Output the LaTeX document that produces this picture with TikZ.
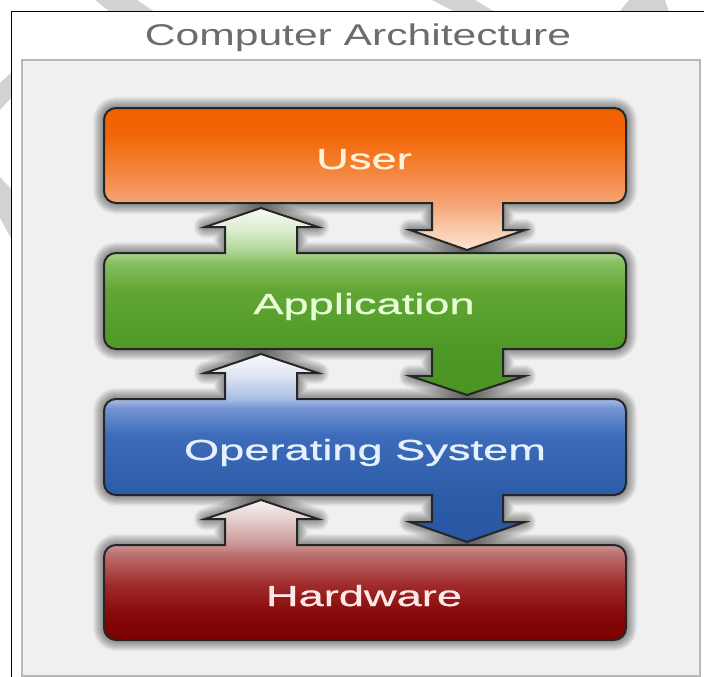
\documentclass[tikz,border=0pt]{standalone}
\usepackage{fontspec}
\newfontfamily\titlefont[FakeStretch=1.42]{Liberation Sans}
\newfontfamily\layerfont[FakeStretch=1.56,FakeBold=0.8]{Liberation Sans}

% panel and frame
\definecolor{panelfill}{HTML}{F0F0F0}
\definecolor{panelline}{HTML}{B8B8B8}
\definecolor{titlegray}{HTML}{6C6C6C}
\definecolor{markgray}{HTML}{D2D2D2}
\definecolor{layerline}{HTML}{262626}

% User layer
\definecolor{userA}{HTML}{F06000}
\definecolor{userB}{HTML}{F26608}
\definecolor{userC}{HTML}{F4843A}
\definecolor{userD}{HTML}{F6A476}
\definecolor{userE}{HTML}{F9C4A4}
\definecolor{userF}{HTML}{FDE4D4}
\definecolor{usertext}{HTML}{FFF2D6}

% Application layer
\definecolor{appA}{HTML}{F8FAF4}
\definecolor{appB}{HTML}{DCECD0}
\definecolor{appC}{HTML}{A8D490}
\definecolor{appD}{HTML}{88C064}
\definecolor{appE}{HTML}{62A636}
\definecolor{appF}{HTML}{4E9826}
\definecolor{appG}{HTML}{4A9424}
\definecolor{apptext}{HTML}{E6FFD4}

% Operating system layer
\definecolor{osA}{HTML}{F8F9FC}
\definecolor{osB}{HTML}{DDE4F2}
\definecolor{osC}{HTML}{A8BCE2}
\definecolor{osD}{HTML}{7494D2}
\definecolor{osE}{HTML}{3D6CBA}
\definecolor{osF}{HTML}{2C5CA8}
\definecolor{osG}{HTML}{2856A2}
\definecolor{ostext}{HTML}{E6F0FF}

% Hardware layer
\definecolor{hwA}{HTML}{F8F2F2}
\definecolor{hwB}{HTML}{E2C8C8}
\definecolor{hwC}{HTML}{C89494}
\definecolor{hwD}{HTML}{BC7070}
\definecolor{hwE}{HTML}{A02A2A}
\definecolor{hwF}{HTML}{880A0A}
\definecolor{hwG}{HTML}{7A0000}
\definecolor{hwtext}{HTML}{FFE8E8}

% vertical shadings: the shaded path spans 25bp (bottom) to 75bp (top)
\pgfdeclareverticalshading{usershade}{100bp}{%
  color(0bp)=(userF); color(25bp)=(userF); color(33.8bp)=(userE);
  color(41.5bp)=(userD); color(53.2bp)=(userC); color(65.5bp)=(userB);
  color(75bp)=(userA); color(100bp)=(userA)}
\pgfdeclareverticalshading{appshade}{100bp}{%
  color(0bp)=(appG); color(25bp)=(appG); color(37.3bp)=(appF);
  color(53.1bp)=(appE); color(60.6bp)=(appD); color(63bp)=(appC);
  color(69.1bp)=(appB); color(75bp)=(appA); color(100bp)=(appA)}
\pgfdeclareverticalshading{osshade}{100bp}{%
  color(0bp)=(osG); color(25bp)=(osG); color(37.5bp)=(osF);
  color(53.5bp)=(osE); color(60.6bp)=(osD); color(63bp)=(osC);
  color(69.1bp)=(osB); color(75bp)=(osA); color(100bp)=(osA)}
\pgfdeclareverticalshading{hwshade}{100bp}{%
  color(0bp)=(hwG); color(25bp)=(hwG); color(35bp)=(hwF);
  color(44.6bp)=(hwE); color(55.7bp)=(hwD); color(58.9bp)=(hwC);
  color(67.1bp)=(hwB); color(75bp)=(hwA); color(100bp)=(hwA)}

% outlines of the four layers: rounded box with the arrows joined to it
\def\userpath{(104,120) arc[start angle=180,end angle=270,radius=12]
  -- (614,108) arc[start angle=270,end angle=360,radius=12]
  -- (626,191) arc[start angle=0,end angle=90,radius=12]
  -- (503,203) -- (503,230) -- (525,230) -- (467,250) -- (410,230) -- (432,230) -- (432,203)
  -- (116,203) arc[start angle=90,end angle=180,radius=12] -- cycle}
\def\apppath{(104,265) arc[start angle=180,end angle=270,radius=12]
  -- (225,253) -- (225,227) -- (205,227) -- (261,208) -- (318,227) -- (297,227) -- (297,253)
  -- (614,253) arc[start angle=270,end angle=360,radius=12]
  -- (626,337) arc[start angle=0,end angle=90,radius=12]
  -- (503,349) -- (503,376) -- (525,376) -- (467,395) -- (410,376) -- (432,376) -- (432,349)
  -- (116,349) arc[start angle=90,end angle=180,radius=12] -- cycle}
\def\ospath{(104,411) arc[start angle=180,end angle=270,radius=12]
  -- (225,399) -- (225,373) -- (205,373) -- (261,354) -- (318,373) -- (297,373) -- (297,399)
  -- (614,399) arc[start angle=270,end angle=360,radius=12]
  -- (626,483) arc[start angle=0,end angle=90,radius=12]
  -- (503,495) -- (503,522) -- (525,522) -- (467,542) -- (410,522) -- (432,522) -- (432,495)
  -- (116,495) arc[start angle=90,end angle=180,radius=12] -- cycle}
\def\hwpath{(104,557) arc[start angle=180,end angle=270,radius=12]
  -- (225,545) -- (225,519) -- (205,519) -- (261,500) -- (318,519) -- (297,519) -- (297,545)
  -- (614,545) arc[start angle=270,end angle=360,radius=12]
  -- (626,628) arc[start angle=0,end angle=90,radius=12]
  -- (116,640) arc[start angle=90,end angle=180,radius=12] -- cycle}

\tikzset{
  layerbody/.style={draw=layerline, line width=2pt, line join=miter},
  layertext/.style={anchor=base, inner sep=0pt, font=\layerfont\fontsize{29}{29}\selectfont},
  markband/.style={fill=markgray, draw=none},
  haze/.style={black, opacity=0.042, line width=#1, line join=round},
}

\begin{document}
\begin{tikzpicture}[x=1pt, y=-1pt]
\useasboundingbox (0,0) rectangle (704,677);
\fill[white] (0,0) rectangle (704,677);

% faint diagonal bands in the outer margin
\fill[markband] (95,0) -- (137,0) -- (155,12) -- (110,12) -- cycle;
\fill[markband] (432,0) -- (475,0) -- (495,12) -- (455,12) -- cycle;
\fill[markband] (629,0) -- (665,0) -- (669,12) -- (619,12) -- cycle;
\fill[markband] (0,83) -- (12,72) -- (12,97) -- (0,110) -- cycle;
\fill[markband] (0,177) -- (12,190) -- (12,240) -- (0,218) -- cycle;

% outer frame
\draw[black, line width=1.6pt] (11.5,677) -- (11.5,11.5) -- (704,11.5);

% title
\node[anchor=base, inner sep=0pt, text=titlegray,
      font=\titlefont\fontsize{30}{30}\selectfont] (title) at (358,46) {Computer Architecture};

% grey panel
\draw[fill=panelfill, draw=panelline, line width=1.6pt] (22,60) rectangle (700,676);

% soft shadow round every layer
\foreach \w in {22,20,18,16,14,12,10,8,6,4}{
  \draw[haze=\w pt] \userpath;
  \draw[haze=\w pt] \apppath;
  \draw[haze=\w pt] \ospath;
  \draw[haze=\w pt] \hwpath;
}

% layer bodies
\shade[shading=usershade, layerbody] \userpath;
\shade[shading=appshade, layerbody] \apppath;
\shade[shading=osshade, layerbody] \ospath;
\shade[shading=hwshade, layerbody] \hwpath;

% layer names
\node[layertext, text=usertext] (user) at (364,169) {User};
\node[layertext, text=apptext] (app) at (364,314) {Application};
\node[layertext, text=ostext] (os) at (365,460) {Operating System};
\node[layertext, text=hwtext] (hw) at (364,606) {Hardware};
\end{tikzpicture}
\end{document}
